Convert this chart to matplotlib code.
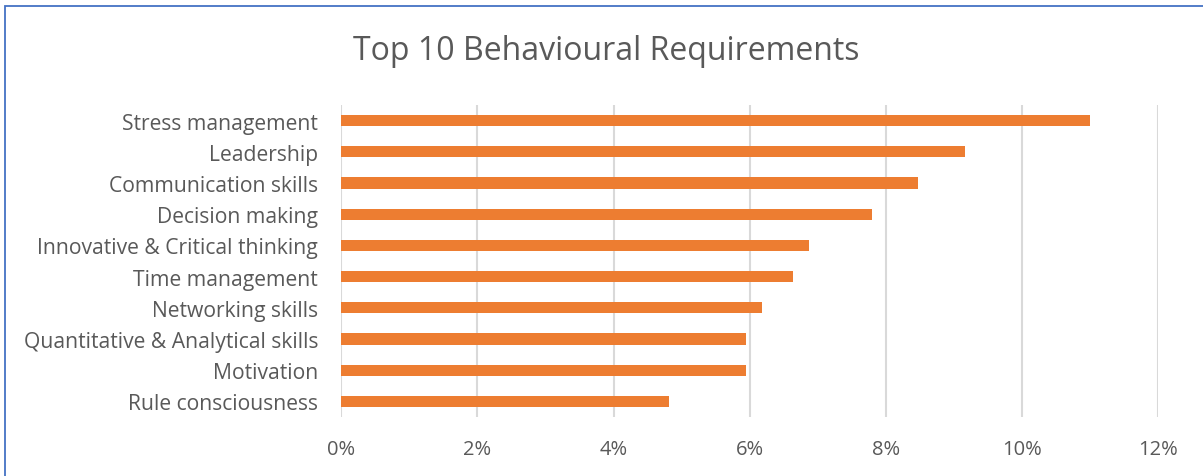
import matplotlib.pyplot as plt
from matplotlib.patches import Rectangle
from matplotlib.ticker import FuncFormatter

# behavioural requirements, top to bottom
skills = ['Stress management', 'Leadership', 'Communication skills', 'Decision making',
          'Innovative & Critical thinking', 'Time management', 'Networking skills',
          'Quantitative & Analytical skills', 'Motivation', 'Rule consciousness']
share = [11.0, 9.16, 8.47, 7.79, 6.87, 6.63, 6.18, 5.95, 5.95, 4.81]
xticks = [0, 2, 4, 6, 8, 10, 12]

plt.rcParams['font.family'] = ['Open Sans', 'DejaVu Sans']
txt = '#595959'

fig = plt.figure(figsize=(12.03, 4.77), dpi=100)
ax = fig.add_axes([0.2835, 0.1237, 0.6795, 0.6541])

ypos = list(range(len(skills)))[::-1]
ax.barh(ypos, share, height=0.36, color='#ED7D31', zorder=3)

ax.set_xlim(0, 12)
ax.set_ylim(-0.5, len(skills) - 0.5)
ax.set_xticks(xticks)
ax.xaxis.set_major_formatter(FuncFormatter(lambda v, p: '%d%%' % v))
ax.set_yticks(ypos)
ax.set_yticklabels(skills)
ax.tick_params(axis='y', length=0, labelsize=15.2, labelcolor=txt, pad=16.5)
ax.tick_params(axis='x', length=0, labelsize=14.5, labelcolor=txt, pad=16)
ax.grid(axis='x', color='#d9d9d9', linewidth=1.5, zorder=0)
for s in ax.spines.values():
    s.set_visible(False)

fig.text(0.504, 0.893, 'Top 10 Behavioural Requirements', ha='center', va='center',
         fontsize=23, color=txt)

# chart frame, cut off at right and bottom
fig.patches.append(Rectangle((5 / 1203, -0.1), 1.2, 1.1 - 7 / 477,
                             transform=fig.transFigure, fill=False,
                             edgecolor='#4472C4', linewidth=1.3))

fig.savefig('out.png', dpi=100)
